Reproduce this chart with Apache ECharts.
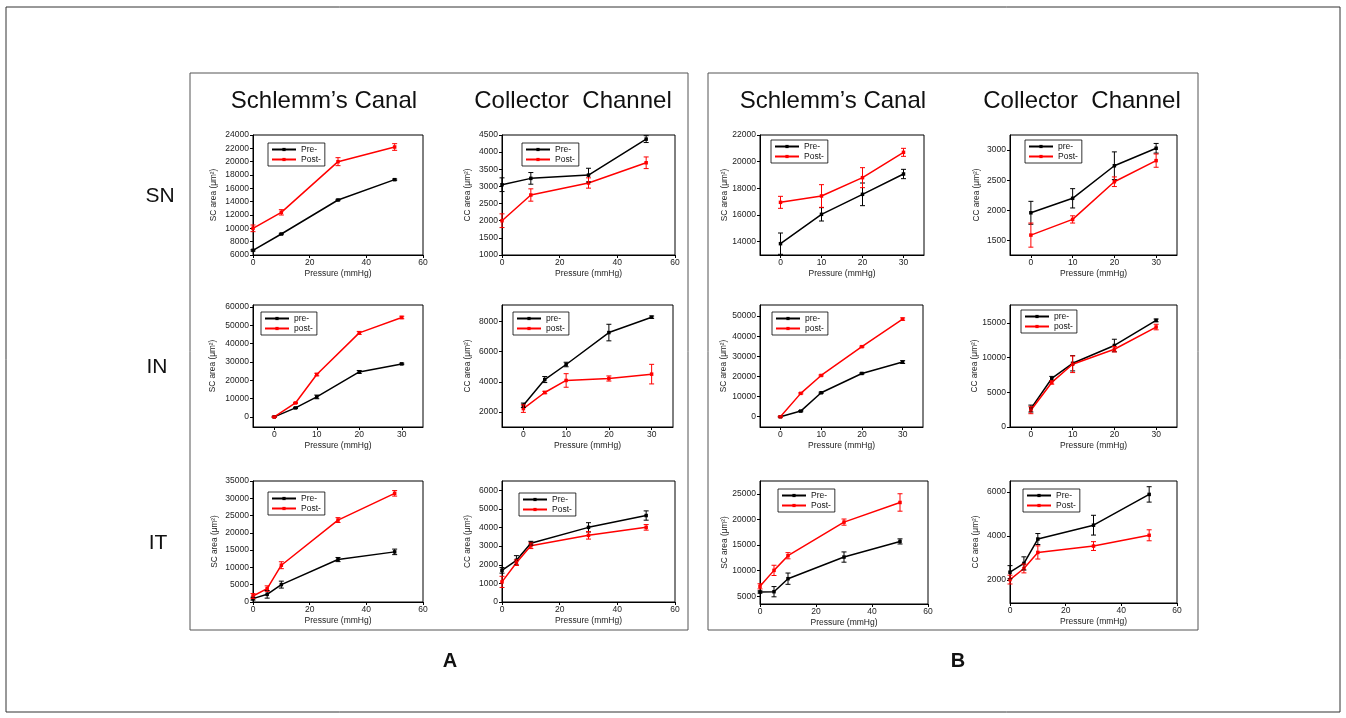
<!DOCTYPE html>
<html>
<head>
<meta charset="utf-8">
<script src="https://cdn.jsdelivr.net/npm/echarts@6/dist/echarts.min.js"></script>
<style>
html, body { margin: 0; background: #fff; }
#main { width: 1346px; height: 718px; }
</style>
</head>
<body>
<div id="main"></div>
<script>
// ---- data (pressure in mmHg, area in um^2) ----
// A / SN
const snA_x = [0, 10, 30, 50];
const snA_sc_pre = [6700, 9150, 14250, 17300];
const snA_sc_preErr = [100, 100, 100, 100];
const snA_sc_post = [10000, 12400, 20000, 22200];
const snA_sc_postErr = [500, 400, 600, 500];
const snA_cc_pre = [3050, 3235, 3330, 4380];
const snA_cc_preErr = [200, 170, 200, 100];
const snA_cc_post = [2000, 2750, 3100, 3690];
const snA_cc_postErr = [200, 180, 150, 170];
// B / SN
const snB_x = [0, 10, 20, 30];
const snB_sc_pre = [13850, 16050, 17550, 19075];
const snB_sc_preErr = [800, 500, 850, 350];
const snB_sc_post = [16950, 17425, 18800, 20700];
const snB_sc_postErr = [450, 850, 750, 300];
const snB_cc_pre = [1960, 2200, 2740, 3030];
const snB_cc_preErr = [190, 160, 230, 80];
const snB_cc_post = [1590, 1850, 2475, 2825];
const snB_cc_postErr = [200, 60, 80, 110];
// A / IN
const inA_x = [0, 5, 10, 20, 30];
const inA_sc_pre = [0, 4900, 10900, 24500, 28900];
const inA_sc_preErr = [300, 300, 1000, 800, 400];
const inA_sc_post = [0, 7600, 23100, 45800, 54200];
const inA_sc_postErr = [300, 300, 700, 800, 700];
const inA_cc_pre = [2440, 4150, 5150, 7270, 8290];
const inA_cc_preErr = [150, 200, 150, 550, 80];
const inA_cc_post = [2220, 3290, 4090, 4220, 4510];
const inA_cc_postErr = [250, 80, 450, 170, 650];
// B / IN
const inB_x = [0, 5, 10, 20, 30];
const inB_sc_pre = [0, 2800, 11900, 21500, 27150];
const inB_sc_preErr = [200, 300, 300, 300, 700];
const inB_sc_post = [0, 11600, 20500, 34800, 48500];
const inB_sc_postErr = [200, 300, 300, 300, 600];
const inB_cc_pre = [2660, 7000, 9190, 11760, 15380];
const inB_cc_preErr = [500, 300, 1100, 900, 200];
const inB_cc_post = [2420, 6430, 9050, 11220, 14420];
const inB_cc_postErr = [500, 250, 1200, 400, 400];
// A / IT
const itA_x = [0, 5, 10, 30, 50];
const itA_sc_pre = [970, 2220, 5030, 12280, 14500];
const itA_sc_preErr = [400, 1100, 1000, 600, 800];
const itA_sc_post = [1740, 3870, 10640, 23700, 31430];
const itA_sc_postErr = [700, 800, 1000, 700, 800];
const itA_cc_pre = [1700, 2240, 3160, 4010, 4645];
const itA_cc_preErr = [150, 250, 100, 250, 250];
const itA_cc_post = [1080, 2110, 3020, 3580, 4010];
const itA_cc_postErr = [300, 150, 150, 200, 150];
// B / IT
const itB_x = [0, 5, 10, 30, 50];
const itB_sc_pre = [5840, 5900, 8440, 12660, 15710];
const itB_sc_preErr = [200, 1000, 1100, 1000, 500];
const itB_sc_post = [6950, 10060, 12920, 19480, 23310];
const itB_sc_postErr = [500, 1000, 600, 600, 1700];
const itB_cc_pre = [2350, 2750, 3860, 4490, 5890];
const itB_cc_preErr = [300, 300, 250, 450, 350];
const itB_cc_post = [2015, 2520, 3250, 3540, 4030];
const itB_cc_postErr = [200, 200, 300, 200, 250];

// tick labels
const xTicks60 = [0, 20, 40, 60];
const xTicks30 = [0, 10, 20, 30];
const yTicks_snA_sc = [6000, 8000, 10000, 12000, 14000, 16000, 18000, 20000, 22000, 24000];
const yTicks_snA_cc = [1000, 1500, 2000, 2500, 3000, 3500, 4000, 4500];
const yTicks_snB_sc = [14000, 16000, 18000, 20000, 22000];
const yTicks_snB_cc = [1500, 2000, 2500, 3000];
const yTicks_inA_sc = [0, 10000, 20000, 30000, 40000, 50000, 60000];
const yTicks_inA_cc = [2000, 4000, 6000, 8000];
const yTicks_inB_sc = [0, 10000, 20000, 30000, 40000, 50000];
const yTicks_inB_cc = [0, 5000, 10000, 15000];
const yTicks_itA_sc = [0, 5000, 10000, 15000, 20000, 25000, 30000, 35000];
const yTicks_itA_cc = [0, 1000, 2000, 3000, 4000, 5000, 6000];
const yTicks_itB_sc = [5000, 10000, 15000, 20000, 25000];
const yTicks_itB_cc = [2000, 4000, 6000];

const scName = 'SC area (\u03bcm\u00b2)';
const ccName = 'CC area (\u03bcm\u00b2)';

// layout: [left, top, right, bottom] in px, axis ranges, legend spot
const panels = [
  { box: [253, 135, 423, 255], xr: [0, 60], xt: xTicks60, yr: [6000, 24000], yt: yTicks_snA_sc, yName: scName, gap: 35,
    x: snA_x, pre: snA_sc_pre, preErr: snA_sc_preErr, post: snA_sc_post, postErr: snA_sc_postErr, names: ['Pre-', 'Post-'], leg: [268, 143] },
  { box: [502, 135, 675, 255], xr: [0, 60], xt: xTicks60, yr: [1000, 4500], yt: yTicks_snA_cc, yName: ccName, gap: 30,
    x: snA_x, pre: snA_cc_pre, preErr: snA_cc_preErr, post: snA_cc_post, postErr: snA_cc_postErr, names: ['Pre-', 'Post-'], leg: [522, 143] },
  { box: [760, 135, 924, 255], xr: [-5, 35], xt: xTicks30, yr: [13000, 22000], yt: yTicks_snB_sc, yName: scName, gap: 29,
    x: snB_x, pre: snB_sc_pre, preErr: snB_sc_preErr, post: snB_sc_post, postErr: snB_sc_postErr, names: ['Pre-', 'Post-'], leg: [771, 140] },
  { box: [1010, 135, 1177, 255], xr: [-5, 35], xt: xTicks30, yr: [1260, 3250], yt: yTicks_snB_cc, yName: ccName, gap: 29,
    x: snB_x, pre: snB_cc_pre, preErr: snB_cc_preErr, post: snB_cc_post, postErr: snB_cc_postErr, names: ['pre-', 'Post-'], leg: [1025, 140] },

  { box: [253, 305, 423, 427], xr: [-5, 35], xt: xTicks30, yr: [-5500, 61000], yt: yTicks_inA_sc, yName: scName, gap: 36,
    x: inA_x, pre: inA_sc_pre, preErr: inA_sc_preErr, post: inA_sc_post, postErr: inA_sc_postErr, names: ['pre-', 'post-'], leg: [261, 312] },
  { box: [502, 305, 673, 427], xr: [-5, 35], xt: xTicks30, yr: [1000, 9100], yt: yTicks_inA_cc, yName: ccName, gap: 30,
    x: inA_x, pre: inA_cc_pre, preErr: inA_cc_preErr, post: inA_cc_post, postErr: inA_cc_postErr, names: ['pre-', 'post-'], leg: [513, 312] },
  { box: [760, 305, 923, 427], xr: [-5, 35], xt: xTicks30, yr: [-5100, 55500], yt: yTicks_inB_sc, yName: scName, gap: 32,
    x: inB_x, pre: inB_sc_pre, preErr: inB_sc_preErr, post: inB_sc_post, postErr: inB_sc_postErr, names: ['pre-', 'post-'], leg: [772, 312] },
  { box: [1010, 305, 1177, 427], xr: [-5, 35], xt: xTicks30, yr: [0, 17600], yt: yTicks_inB_cc, yName: ccName, gap: 30,
    x: inB_x, pre: inB_cc_pre, preErr: inB_cc_preErr, post: inB_cc_post, postErr: inB_cc_postErr, names: ['pre-', 'post-'], leg: [1021, 310] },

  { box: [253, 481, 423, 602], xr: [0, 60], xt: xTicks60, yr: [0, 35000], yt: yTicks_itA_sc, yName: scName, gap: 34,
    x: itA_x, pre: itA_sc_pre, preErr: itA_sc_preErr, post: itA_sc_post, postErr: itA_sc_postErr, names: ['Pre-', 'Post-'], leg: [268, 492] },
  { box: [502, 481, 675, 602], xr: [0, 60], xt: xTicks60, yr: [0, 6500], yt: yTicks_itA_cc, yName: ccName, gap: 30,
    x: itA_x, pre: itA_cc_pre, preErr: itA_cc_preErr, post: itA_cc_post, postErr: itA_cc_postErr, names: ['Pre-', 'Post-'], leg: [519, 493] },
  { box: [760, 481, 928, 604], xr: [0, 60], xt: xTicks60, yr: [3500, 27500], yt: yTicks_itB_sc, yName: scName, gap: 30,
    x: itB_x, pre: itB_sc_pre, preErr: itB_sc_preErr, post: itB_sc_post, postErr: itB_sc_postErr, names: ['Pre-', 'Post-'], leg: [778, 489] },
  { box: [1010, 481, 1177, 603], xr: [0, 60], xt: xTicks60, yr: [950, 6500], yt: yTicks_itB_cc, yName: ccName, gap: 30,
    x: itB_x, pre: itB_cc_pre, preErr: itB_cc_preErr, post: itB_cc_post, postErr: itB_cc_postErr, names: ['Pre-', 'Post-'], leg: [1023, 489] }
];

const FONT = 'Liberation Sans, Arial, sans-serif';
const BLACK = '#000000';
const RED = '#ff0000';

function errRender(params, api) {
  const x = api.value(0);
  const top = api.coord([x, api.value(2)]);
  const bot = api.coord([x, api.value(1)]);
  const w = 2.5;
  const style = { stroke: api.visual('color'), lineWidth: 1 };
  return {
    type: 'group',
    children: [
      { type: 'line', shape: { x1: top[0], y1: top[1], x2: bot[0], y2: bot[1] }, style: style },
      { type: 'line', shape: { x1: top[0] - w, y1: top[1], x2: top[0] + w, y2: top[1] }, style: style },
      { type: 'line', shape: { x1: bot[0] - w, y1: bot[1], x2: bot[0] + w, y2: bot[1] }, style: style }
    ]
  };
}

function plain(v) { return String(v); }

const grid = [], xAxis = [], yAxis = [], series = [], legend = [];

panels.forEach(function (p, i) {
  grid.push({
    left: p.box[0], top: p.box[1], width: p.box[2] - p.box[0], height: p.box[3] - p.box[1],
    show: true, borderColor: BLACK, borderWidth: 1, backgroundColor: 'transparent'
  });
  xAxis.push({
    type: 'value', gridIndex: i, min: p.xr[0], max: p.xr[1],
    name: 'Pressure (mmHg)', nameLocation: 'middle', nameGap: 14,
    nameTextStyle: { fontSize: 8.5, fontFamily: FONT, color: '#222' },
    axisLine: { show: true, onZero: false, lineStyle: { color: BLACK, width: 1 } },
    axisTick: { show: true, length: 3, customValues: p.xt, lineStyle: { color: BLACK } },
    axisLabel: { customValues: p.xt, formatter: plain, margin: 3, fontSize: 8.5, fontFamily: FONT, color: '#222' },
    splitLine: { show: false }
  });
  yAxis.push({
    type: 'value', gridIndex: i, min: p.yr[0], max: p.yr[1],
    name: p.yName, nameLocation: 'middle', nameGap: p.gap, nameRotate: 90,
    nameTextStyle: { fontSize: 8.3, fontFamily: FONT, color: '#222' },
    axisLine: { show: true, onZero: false, lineStyle: { color: BLACK, width: 1 } },
    axisTick: { show: true, length: 3, customValues: p.yt, lineStyle: { color: BLACK } },
    axisLabel: { customValues: p.yt, formatter: plain, margin: 4, fontSize: 8.5, fontFamily: FONT, color: '#222' },
    splitLine: { show: false }
  });

  [[p.pre, p.preErr, BLACK, p.names[0]], [p.post, p.postErr, RED, p.names[1]]].forEach(function (s) {
    const vals = s[0], errs = s[1];
    series.push({
      type: 'line', name: s[3], xAxisIndex: i, yAxisIndex: i,
      data: p.x.map(function (x, k) { return [x, vals[k]]; }),
      symbol: 'rect', symbolSize: 3.5, showSymbol: true,
      lineStyle: { color: s[2], width: 1.5 }, itemStyle: { color: s[2] },
      z: 3, animation: false
    });
    series.push({
      type: 'custom', name: 'err' + i + s[3], xAxisIndex: i, yAxisIndex: i,
      data: p.x.map(function (x, k) { return [x, vals[k] - errs[k], vals[k] + errs[k]]; }),
      encode: { x: 0, y: [1, 2] },
      renderItem: errRender, itemStyle: { color: s[2] }, z: 4, animation: false
    });
  });

  legend.push({
    data: [p.names[0], p.names[1]], left: p.leg[0], top: p.leg[1],
    orient: 'vertical', itemWidth: 24, itemHeight: 4, itemGap: 1,
    padding: [2, 4, 2, 3], borderColor: BLACK, borderWidth: 0.8,
    selectedMode: false,
    textStyle: { fontSize: 8.5, fontFamily: FONT, color: '#111', lineHeight: 9 }
  });
});

const titleStyle = { fontSize: 24, fontFamily: FONT, fill: '#111' };
const rowStyle = { fontSize: 21, fontFamily: FONT, fill: '#111' };
function txt(x, y, s, st) {
  return { type: 'text', x: x, y: y, style: Object.assign({ text: s, align: 'center', verticalAlign: 'middle' }, st) };
}

const graphic = [
  { type: 'rect', shape: { x: 6, y: 7, width: 1334, height: 705 }, style: { fill: 'none', stroke: '#333', lineWidth: 1 } },
  { type: 'rect', shape: { x: 190, y: 73, width: 498, height: 557 }, style: { fill: 'none', stroke: '#555', lineWidth: 1 } },
  { type: 'rect', shape: { x: 708, y: 73, width: 490, height: 557 }, style: { fill: 'none', stroke: '#555', lineWidth: 1 } },
  txt(324, 101, 'Schlemm\u2019s Canal', titleStyle),
  txt(573, 101, 'Collector  Channel', titleStyle),
  txt(833, 101, 'Schlemm\u2019s Canal', titleStyle),
  txt(1082, 101, 'Collector  Channel', titleStyle),
  txt(160, 196, 'SN', rowStyle),
  txt(157, 367, 'IN', rowStyle),
  txt(158, 543, 'IT', rowStyle),
  txt(450, 661, 'A', { fontSize: 20, fontWeight: 'bold', fontFamily: FONT, fill: '#111' }),
  txt(958, 661, 'B', { fontSize: 20, fontWeight: 'bold', fontFamily: FONT, fill: '#111' })
];

const chart = echarts.init(document.getElementById('main'));
chart.setOption({
  backgroundColor: '#ffffff',
  animation: false,
  grid: grid,
  xAxis: xAxis,
  yAxis: yAxis,
  legend: legend,
  series: series,
  graphic: graphic
});
</script>
</body>
</html>
